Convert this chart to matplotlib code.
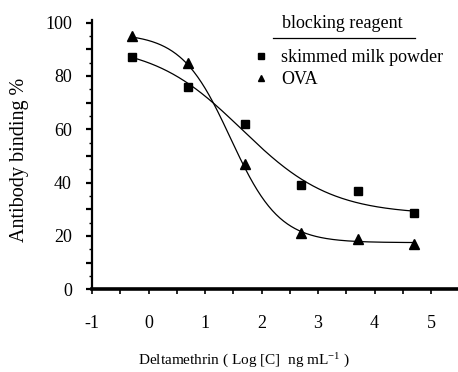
import numpy as np
import matplotlib
matplotlib.use("Agg")
import matplotlib.pyplot as plt
from matplotlib.lines import Line2D
from matplotlib.ticker import MultipleLocator, FixedLocator, FuncFormatter

plt.rcParams['font.family'] = ['Liberation Serif', 'DejaVu Serif']
plt.rcParams['mathtext.fontset'] = 'custom'
plt.rcParams['mathtext.rm'] = 'Liberation Serif'
plt.rcParams['mathtext.it'] = 'Liberation Serif'

# Data
log_conc = [-0.3, 0.7, 1.7, 2.7, 3.7, 4.7]
milk_binding = [87, 76, 62, 39, 37, 28.5]
ova_binding = [95, 85, 47, 21, 19, 17]

# Fitted 4-parameter logistic parameters: top, bottom, logIC50, slope
milk_fit = (92, 28, 1.65, 0.55)
ova_fit = (96, 17.5, 1.45, 1.0)

series_labels = ["skimmed milk powder", "OVA"]
legend_title = "blocking reagent"
x_label = "Deltamethrin ( Log [C]  ng mL$^{-1}$ )"
y_label = "Antibody binding %"


def logistic(x, p):
    top, bottom, x0, h = p
    return bottom + (top - bottom) / (1 + 10 ** ((x - x0) * h))


W, H = 458, 372
fig = plt.figure(figsize=(W / 100, H / 100), dpi=100)
ax = fig.add_axes([92 / W, (H - 289.3) / H, (457 - 92) / W, (289.3 - 20) / H])

xs = np.linspace(min(log_conc), max(log_conc), 300)
ax.plot(xs, logistic(xs, milk_fit), color='black', lw=0.9)
ax.plot(xs, logistic(xs, ova_fit), color='black', lw=0.9)
sq, = ax.plot(log_conc, milk_binding, 's', color='black', ms=5.5, label=series_labels[0])
tr, = ax.plot(log_conc, ova_binding, '^', color='black', ms=6.5, label=series_labels[1])

ax.set_xlim(-1, 5.46)
ax.set_ylim(0, 101)

for s in ['top', 'right']:
    ax.spines[s].set_visible(False)
ax.spines['bottom'].set_linewidth(2.6)
ax.spines['left'].set_linewidth(1.6)

ax.xaxis.set_major_locator(FixedLocator([-1, 0, 1, 2, 3, 4, 5]))
ax.xaxis.set_minor_locator(MultipleLocator(0.5))
ax.yaxis.set_major_locator(MultipleLocator(10))
ax.yaxis.set_minor_locator(MultipleLocator(5))
ax.yaxis.set_major_formatter(FuncFormatter(lambda v, p: f"{int(round(v))}" if int(round(v)) % 20 == 0 else ""))
ax.xaxis.set_major_formatter(FuncFormatter(lambda v, p: f"{int(round(v))}"))

ax.tick_params(axis='y', which='major', direction='out', length=4.5, width=1.6, pad=10, labelsize=13)
ax.tick_params(axis='y', which='minor', direction='out', length=2.5, width=1.0)
ax.tick_params(axis='x', which='both', direction='out', length=3.5, width=1.2, pad=15, labelsize=13)

fig.text(244 / W, 1 - 361 / H, x_label, ha='center', va='center', fontsize=11)
fig.text(20 / W, 1 - 160 / H, y_label, ha='center', va='center', rotation=90, fontsize=14.5)

# Legend
fig.text(342 / W, 1 - 23 / H, legend_title, ha='center', va='center', fontsize=13)
fig.add_artist(Line2D([273 / W, 415 / W], [1 - 38 / H, 1 - 38 / H], color='black', lw=0.9,
                      transform=fig.transFigure))
leg = ax.legend(handles=[
    Line2D([], [], marker='s', ls='none', color='black', ms=4.5),
    Line2D([], [], marker='^', ls='none', color='black', ms=5)],
    labels=series_labels, frameon=False, fontsize=13, loc='upper left',
    bbox_to_anchor=(252 / W, 1 - 49 / H), bbox_transform=fig.transFigure,
    handlelength=1.0, handletextpad=0.6, labelspacing=0.3, borderpad=0, borderaxespad=0)

fig.savefig("out.png", dpi=100)
